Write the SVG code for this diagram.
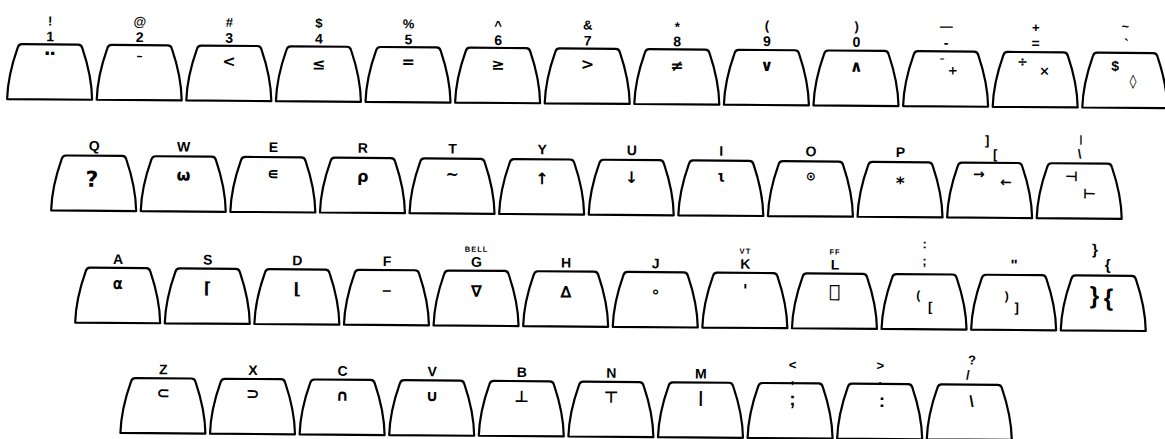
<svg xmlns="http://www.w3.org/2000/svg" width="1165" height="439" viewBox="0 0 1165 439">
<style>
.k{fill:#fff;stroke:#000;stroke-width:2.2;stroke-linejoin:round}
text{fill:#000;text-anchor:middle}
.l{font-family:"Liberation Sans",Arial,sans-serif;font-weight:bold;font-size:14px}
.u{font-family:"Liberation Sans",Arial,sans-serif;font-weight:bold;font-size:13px}
.s{font-family:"DejaVu Sans","DejaVu Sans Mono",sans-serif;font-weight:bold;font-size:16px}
.a{font-family:"DejaVu Sans Mono","DejaVu Sans",sans-serif;font-weight:bold;font-size:16px}
.t{font-family:"Liberation Sans",Arial,sans-serif;font-weight:bold;font-size:7.5px;letter-spacing:1px}
</style>
<defs>
<path id="k" class="k" d="M-28,0 H28 Q31.5,0 32.3,3.5 C37,17 42,33 42.5,55 H-42.5 C-42,33 -37,17 -32.3,3.5 Q-31.5,0 -28,0 Z"/>
</defs>
<rect width="1165" height="439" fill="#fff"/>
<g id="keyboard" transform="rotate(0.45)">
<!-- Row 1 -->
<g id="key-1"><use href="#k" x="50.4" y="44"/><text class="u" x="50.4" y="25">!</text><text class="l" x="50.4" y="41">1</text><text class="s" x="50.4" y="73" style="font-size:28px">¨</text></g>
<g id="key-2"><use href="#k" x="140" y="44"/><text class="u" x="140" y="25">@</text><text class="l" x="140" y="41">2</text><text class="s" x="140" y="67">¯</text></g>
<g id="key-3"><use href="#k" x="229.6" y="44"/><text class="u" x="229.6" y="25">#</text><text class="l" x="229.6" y="41">3</text><text class="s" x="229.6" y="65">&lt;</text></g>
<g id="key-4"><use href="#k" x="319.2" y="44"/><text class="u" x="319.2" y="25">$</text><text class="l" x="319.2" y="41">4</text><text class="s" x="319.2" y="67">≤</text></g>
<g id="key-5"><use href="#k" x="408.8" y="44"/><text class="u" x="408.8" y="25">%</text><text class="l" x="408.8" y="41">5</text><text class="s" x="408.8" y="64">=</text></g>
<g id="key-6"><use href="#k" x="498.4" y="44"/><text class="u" x="498.4" y="26">^</text><text class="l" x="498.4" y="41">6</text><text class="s" x="498.4" y="66">≥</text></g>
<g id="key-7"><use href="#k" x="588" y="44"/><text class="u" x="588" y="25">&amp;</text><text class="l" x="588" y="41">7</text><text class="s" x="588" y="65">&gt;</text></g>
<g id="key-8"><use href="#k" x="677.6" y="44"/><text class="u" x="677.6" y="26">*</text><text class="l" x="677.6" y="41">8</text><text class="s" x="677.6" y="66">≠</text></g>
<g id="key-9"><use href="#k" x="767.2" y="44"/><text class="u" x="767.2" y="24">(</text><text class="l" x="767.2" y="40">9</text><text class="s" x="767.2" y="65">∨</text></g>
<g id="key-0"><use href="#k" x="856.8" y="44"/><text class="u" x="856.8" y="24">)</text><text class="l" x="856.8" y="40">0</text><text class="s" x="856.8" y="65">∧</text></g>
<g id="key-minus"><use href="#k" x="946.4" y="44"/><text class="u" x="946.4" y="23">—</text><text class="l" x="946.4" y="40">-</text><text class="s" x="942.4" y="61" style="font-size:13px">¯</text><text class="s" x="953.4" y="67" style="font-size:12px">+</text></g>
<g id="key-equals"><use href="#k" x="1036" y="44"/><text class="u" x="1036" y="24">+</text><text class="l" x="1036" y="40">=</text><text class="s" x="1023" y="58" style="font-size:13px">÷</text><text class="s" x="1045" y="67" style="font-size:13px">×</text></g>
<g id="key-tilde"><use href="#k" x="1125.6" y="44"/><text class="u" x="1125.6" y="22">~</text><text class="l" x="1126.6" y="40">`</text><text class="l" x="1115.6" y="62">$</text><text class="s" x="1133.6" y="77" style="font-size:14px">◊</text></g>
<!-- Row 2 -->
<g id="key-q"><use href="#k" x="95.3" y="155"/><text class="l" x="95.3" y="150">Q</text><text class="s" x="93.3" y="186" style="font-size:22px">?</text></g>
<g id="key-w"><use href="#k" x="184.9" y="155"/><text class="l" x="184.9" y="150">W</text><text class="s" x="184.9" y="179">ω</text></g>
<g id="key-e"><use href="#k" x="274.5" y="155"/><text class="l" x="274.5" y="150">E</text><text class="s" x="274.5" y="177">∊</text></g>
<g id="key-r"><use href="#k" x="364.1" y="155"/><text class="l" x="364.1" y="150">R</text><text class="s" x="364.1" y="179">ρ</text></g>
<g id="key-t"><use href="#k" x="453.7" y="155"/><text class="l" x="453.7" y="150">T</text><text class="s" x="453.7" y="176">~</text></g>
<g id="key-y"><use href="#k" x="543.3" y="155"/><text class="l" x="543.3" y="150">Y</text><text class="s" x="543.3" y="180">↑</text></g>
<g id="key-u"><use href="#k" x="632.9" y="155"/><text class="l" x="632.9" y="150">U</text><text class="s" x="632.9" y="178">↓</text></g>
<g id="key-i"><use href="#k" x="722.5" y="155"/><text class="l" x="722.5" y="150">I</text><text class="a" x="722.5" y="176">⍳</text></g>
<g id="key-o"><use href="#k" x="812.1" y="155"/><text class="l" x="812.1" y="150">O</text><text class="s" x="812.1" y="174" style="font-size:12px">⊙</text></g>
<g id="key-p"><use href="#k" x="901.7" y="155"/><text class="l" x="901.7" y="150">P</text><text class="s" x="901.7" y="182" style="font-size:17px">*</text></g>
<g id="key-brackets"><use href="#k" x="991.3" y="155"/><text class="u" x="988.3" y="137">]</text><text class="u" x="996.3" y="151">[</text><text class="s" x="980.3" y="171" style="font-size:14px">→</text><text class="s" x="1007.3" y="179" style="font-size:14px">←</text></g>
<g id="key-backslash"><use href="#k" x="1080.9" y="155"/><text class="l" x="1081.9" y="134" style="font-size:10px">|</text><text class="u" x="1080.9" y="150">\</text><text class="s" x="1072.9" y="173" style="font-size:14px">⊣</text><text class="s" x="1090.9" y="190" style="font-size:14px">⊢</text></g>
<!-- Row 3 -->
<g id="key-a"><use href="#k" x="120.2" y="267"/><text class="l" x="120.2" y="263">A</text><text class="a" x="120.2" y="288">⍺</text></g>
<g id="key-s"><use href="#k" x="209.8" y="267"/><text class="l" x="209.8" y="263">S</text><text class="s" x="209.8" y="292">⌈</text></g>
<g id="key-d"><use href="#k" x="299.4" y="267"/><text class="l" x="299.4" y="263">D</text><text class="s" x="299.4" y="292">⌊</text></g>
<g id="key-f"><use href="#k" x="389" y="267"/><text class="l" x="389" y="263">F</text><text class="s" x="389" y="285">_</text></g>
<g id="key-g"><use href="#k" x="478.6" y="267"/><text class="t" x="478.6" y="248">BELL</text><text class="l" x="478.6" y="263">G</text><text class="s" x="478.6" y="293">∇</text></g>
<g id="key-h"><use href="#k" x="568.2" y="267"/><text class="l" x="568.2" y="263">H</text><text class="s" x="568.2" y="293">∆</text></g>
<g id="key-j"><use href="#k" x="657.8" y="267"/><text class="l" x="657.8" y="263">J</text><text class="s" x="657.8" y="292">∘</text></g>
<g id="key-k"><use href="#k" x="747.4" y="267"/><text class="t" x="747.4" y="248">VT</text><text class="l" x="747.4" y="263">K</text><text class="s" x="747.4" y="290">'</text></g>
<g id="key-l"><use href="#k" x="837" y="267"/><text class="t" x="837" y="248">FF</text><text class="l" x="837" y="263">L</text><text class="a" x="837" y="292">⎕</text></g>
<g id="key-semicolon"><use href="#k" x="926.6" y="267"/><text class="u" x="926.6" y="241">:</text><text class="u" x="926.6" y="258">;</text><text class="l" x="920.6" y="292" style="font-size:12px">(</text><text class="l" x="932.6" y="304" style="font-size:13px">[</text></g>
<g id="key-quote"><use href="#k" x="1016.2" y="267"/><text class="l" x="1016.2" y="262" style="font-size:15px">"</text><text class="l" x="1009.2" y="292" style="font-size:12px">)</text><text class="l" x="1019.2" y="304" style="font-size:13px">]</text></g>
<g id="key-braces"><use href="#k" x="1105.8" y="267"/><text class="l" x="1096.8" y="246" style="font-size:15px">}</text><text class="l" x="1109.8" y="261" style="font-size:15px">{</text><text class="l" x="1096.8" y="295" style="font-size:24px">}</text><text class="l" x="1110.8" y="297" style="font-size:24px">{</text></g>
<!-- Row 4 -->
<g id="key-z"><use href="#k" x="166.3" y="377"/><text class="l" x="166.3" y="373">Z</text><text class="s" x="166.3" y="397">⊂</text></g>
<g id="key-x"><use href="#k" x="255.9" y="377"/><text class="l" x="255.9" y="373">X</text><text class="s" x="255.9" y="397">⊃</text></g>
<g id="key-c"><use href="#k" x="345.5" y="377"/><text class="l" x="345.5" y="373">C</text><text class="s" x="345.5" y="398">∩</text></g>
<g id="key-v"><use href="#k" x="435.1" y="377"/><text class="l" x="435.1" y="373">V</text><text class="s" x="435.1" y="398">∪</text></g>
<g id="key-b"><use href="#k" x="524.7" y="377"/><text class="l" x="524.7" y="373">B</text><text class="s" x="524.7" y="398">⊥</text></g>
<g id="key-n"><use href="#k" x="614.3" y="377"/><text class="l" x="614.3" y="373">N</text><text class="s" x="614.3" y="398">⊤</text></g>
<g id="key-m"><use href="#k" x="703.9" y="377"/><text class="l" x="703.9" y="373">M</text><text class="l" x="703.9" y="397" style="font-size:16px">|</text></g>
<g id="key-comma"><use href="#k" x="793.5" y="377"/><text class="u" x="795.5" y="363">&lt;</text><text class="u" x="795.5" y="377">,</text><text class="l" x="795.5" y="399" style="font-size:19px">;</text></g>
<g id="key-period"><use href="#k" x="883.1" y="377"/><text class="u" x="883.1" y="363">&gt;</text><text class="u" x="883.1" y="377">.</text><text class="l" x="885.1" y="400" style="font-size:19px">:</text></g>
<g id="key-slash"><use href="#k" x="972.7" y="377"/><text class="u" x="974.7" y="357">?</text><text class="u" x="970.7" y="372">/</text><text class="l" x="974.7" y="399" style="font-size:16px">\</text></g>
</g>
<g id="connectors"/>
</svg>
